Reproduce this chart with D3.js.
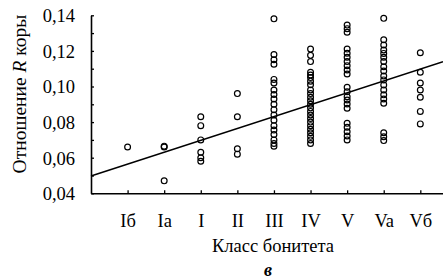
<!DOCTYPE html>
<html><head><meta charset="utf-8">
<script src="https://cdn.jsdelivr.net/npm/d3@7"></script>
<style>body{margin:0;background:#fff}svg{display:block}text{font-family:"Liberation Serif","Times New Roman",serif;fill:#000}</style>
</head><body>
<script>
const categories = ["Iб","Iа","I","II","III","IV","V","Va","Vб"];
const valsIb  = [0.066];
const valsIa  = [0.066, 0.0665, 0.047];
const valsI   = [0.083, 0.078, 0.070, 0.063, 0.060, 0.058];
const valsII  = [0.096, 0.083, 0.065, 0.062];
const valsIII = [0.138, 0.118, 0.115, 0.1125, 0.104, 0.102, 0.098, 0.0955, 0.093, 0.090, 0.087, 0.084, 0.081, 0.078, 0.0755, 0.073, 0.070, 0.068, 0.0665];
const valsIV  = [0.121, 0.1175, 0.114, 0.108, 0.1065, 0.105, 0.103, 0.101, 0.098, 0.096, 0.094, 0.092, 0.090, 0.088, 0.086, 0.084, 0.082, 0.080, 0.078, 0.076, 0.074, 0.072, 0.070, 0.068];
const valsV   = [0.1345, 0.1325, 0.1305, 0.121, 0.1187, 0.1164, 0.114, 0.1117, 0.1093, 0.107, 0.0996, 0.0971, 0.0943, 0.0924, 0.0902, 0.0878, 0.0793, 0.0771, 0.0746, 0.0722, 0.070];
const valsVa  = [0.1383, 0.1262, 0.1233, 0.1205, 0.1186, 0.1164, 0.114, 0.1111, 0.1087, 0.1059, 0.1037, 0.1009, 0.0981, 0.0953, 0.093, 0.0906, 0.074, 0.0718, 0.0696];
const valsVb  = [0.119, 0.108, 0.102, 0.098, 0.094, 0.086, 0.079];
const seriesValues = [valsIb, valsIa, valsI, valsII, valsIII, valsIV, valsV, valsVa, valsVb];
const yTickValues = [0.04, 0.05, 0.06, 0.07, 0.08, 0.09, 0.10, 0.11, 0.12, 0.13, 0.14];
const yLabelValues = [0.04, 0.06, 0.08, 0.10, 0.12, 0.14];
const regIntercept = 0.0497, regSlope = 0.00668; // value at category index 0, per class
const xTitle = "Класс бонитета", panelLabel = "в";

const W = 443, H = 280;
const svg = d3.select("body").append("svg").attr("width", W).attr("height", H);
const x = d3.scaleLinear().domain([0, 9.62]).range([91, 443]);
const y = d3.scaleLinear().domain([0.04, 0.14]).range([193.3, 15.3]);
const fmt = v => d3.format(".2f")(v).replace(".", ",");

// y axis
const yAxis = d3.axisLeft(y).tickValues(yTickValues).tickSize(-3).tickSizeOuter(0)
  .tickFormat(d => yLabelValues.some(v => Math.abs(v - d) < 1e-9) ? fmt(d) : "");
const gy = svg.append("g").attr("transform", `translate(${x(0)},0)`).call(yAxis);
gy.select(".domain").attr("stroke", "#000").attr("stroke-width", 1.6);
gy.selectAll(".tick line").attr("stroke", "#000").attr("stroke-width", 1.3);
gy.selectAll(".tick text").attr("x", -16).attr("font-size", 18.5).attr("font-family", "Liberation Serif").attr("dy", "0.35em");

// x axis
const xAxis = d3.axisBottom(x).tickValues(d3.range(1, categories.length + 1)).tickSize(-3).tickSizeOuter(0)
  .tickFormat(i => categories[i - 1]);
const gx = svg.append("g").attr("transform", `translate(0,${y(0.04)})`).call(xAxis);
gx.select(".domain").attr("stroke", "#000").attr("stroke-width", 1.6);
gx.selectAll(".tick line").attr("stroke", "#000").attr("stroke-width", 1.3);
gx.selectAll(".tick text").attr("y", 34).attr("dy", 0).attr("font-size", 18.5).attr("font-family", "Liberation Serif");

// regression line
const x0 = x.domain()[0], x1 = x.domain()[1];
svg.append("line")
  .attr("x1", x(x0)).attr("y1", y(regIntercept + regSlope * x0))
  .attr("x2", x(x1)).attr("y2", y(regIntercept + regSlope * x1))
  .attr("stroke", "#000").attr("stroke-width", 1.5);

// points
const pts = [];
seriesValues.forEach((arr, i) => arr.forEach(v => pts.push({i: i + 1, v})));
svg.append("g").selectAll("circle").data(pts).join("circle")
  .attr("cx", d => x(d.i)).attr("cy", d => y(d.v)).attr("r", 2.9)
  .attr("fill", "none").attr("stroke", "#000").attr("stroke-width", 1.2);

// titles
const yt = svg.append("text").attr("transform", "translate(26,94) rotate(-90)")
  .attr("text-anchor", "middle").attr("font-size", 19.5);
yt.append("tspan").text("Отношение ");
yt.append("tspan").attr("font-style", "italic").text("R");
yt.append("tspan").text(" коры");

svg.append("text").attr("x", 273).attr("y", 252).attr("text-anchor", "middle")
  .attr("font-size", 18.5).text(xTitle);
svg.append("text").attr("x", 268).attr("y", 276).attr("text-anchor", "middle")
  .attr("font-size", 18).attr("font-style", "italic").attr("font-weight", "bold").text(panelLabel);
</script>
</body></html>
